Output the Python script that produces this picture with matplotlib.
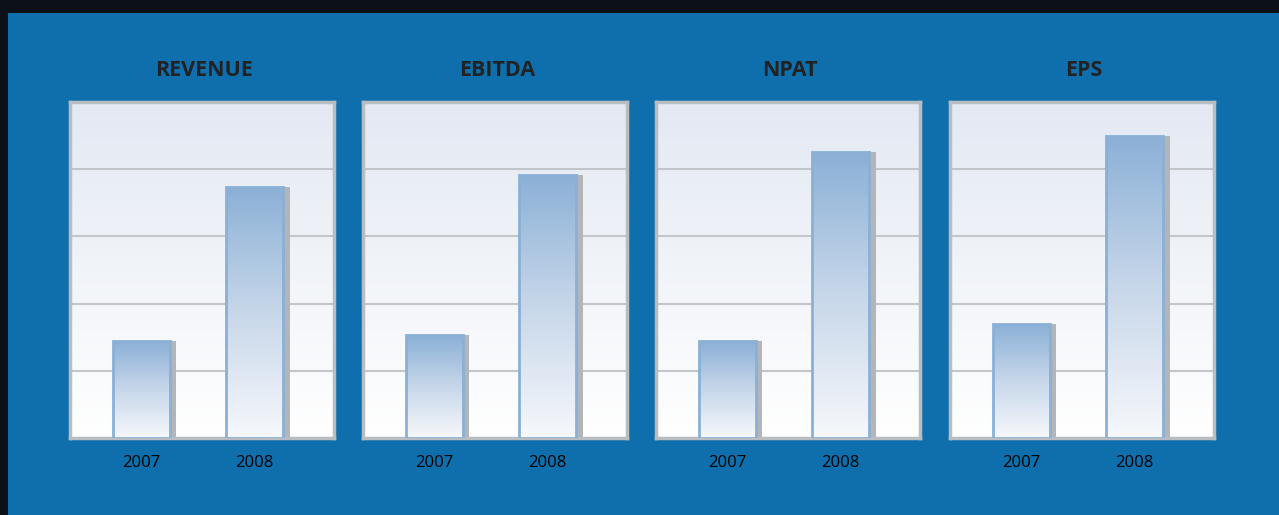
import numpy as np
import matplotlib
matplotlib.use('Agg')
import matplotlib.pyplot as plt
from matplotlib.patches import Rectangle
from matplotlib.colors import LinearSegmentedColormap

titles = ['REVENUE', 'EBITDA', 'NPAT', 'EPS']
years = ['2007', '2008']
revenue = [1.44, 3.73]
ebitda = [1.53, 3.91]
npat = [1.44, 4.25]
eps = [1.69, 4.49]
series = [revenue, ebitda, npat, eps]

W, H = 1279, 515
blue_bg = '#0e6fac'
frame_col = '#b9bcc1'
grid_col = '#c2c5ca'

bg_cmap = LinearSegmentedColormap.from_list('bg', ['#ffffff', '#e3e9f3'])
bar_cmap = LinearSegmentedColormap.from_list('bar', ['#f6f8fb', '#c7d7ea', '#8bb0d6'])


def draw_panel(ax, title, values, title_x):
    x = np.arange(len(values))
    xlim = (-0.628, 1.698)
    ylim = (0, 5)
    ax.set_xlim(*xlim)
    ax.set_ylim(*ylim)

    grad = np.linspace(0, 1, 256).reshape(-1, 1)
    ax.imshow(grad, cmap=bg_cmap, origin='lower', aspect='auto',
              extent=[xlim[0], xlim[1], ylim[0], ylim[1]], zorder=0)

    for g in [1, 2, 3, 4]:
        ax.axhline(g, color=grid_col, lw=1.5, zorder=1)

    # shadow behind the bars
    ax.bar(x + 0.06, values, width=0.5, color='#b3b5b9', zorder=2)
    bars = ax.bar(x, values, width=0.5, color='none', edgecolor='#8ab0d6',
                  lw=2, zorder=4)
    for b, v in zip(bars, values):
        x0 = b.get_x()
        im = ax.imshow(grad, cmap=bar_cmap, origin='lower', aspect='auto',
                       extent=[x0, x0 + b.get_width(), 0, v], zorder=3)
        im.set_clip_path(b)
    ax.set_xlim(*xlim)
    ax.set_ylim(*ylim)

    ax.set_xticks(x)
    ax.set_xticklabels(years, fontsize=12, family='Open Sans', color='#000000')
    ax.set_yticks([])
    ax.tick_params(axis='x', length=0, pad=12)
    for s in ax.spines.values():
        s.set_color(frame_col)
        s.set_linewidth(2.5)

    fig.text(title_x, 1 - 71 / H, title, ha='center', va='center',
             fontsize=15.5, fontweight='bold', family='Open Sans', color='#222222')


fig = plt.figure(figsize=(W / 100, H / 100), dpi=100)
fig.patch.set_facecolor('#0c1018')
fig.patches.append(Rectangle((8 / W, 0), 1, 1 - 13 / H, transform=fig.transFigure,
                             facecolor=blue_bg, edgecolor='none', zorder=-1))

lefts = [70, 363, 656, 950]
pw = 264
top, bottom = 102, 438
for left, title, vals in zip(lefts, titles, series):
    ax = fig.add_axes([left / W, 1 - bottom / H, pw / W, (bottom - top) / H])
    draw_panel(ax, title, vals, (left + pw / 2 + 2) / W)

plt.savefig('out.png', dpi=100, facecolor=fig.get_facecolor())
